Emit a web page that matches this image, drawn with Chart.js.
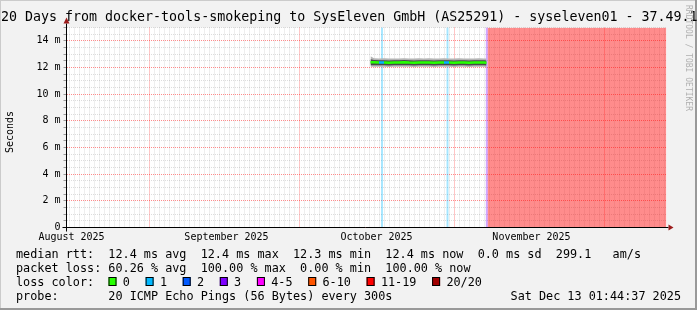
<!DOCTYPE html>
<html>
<head>
<meta charset="utf-8">
<title>SmokePing 120 days</title>
<script src="https://cdn.jsdelivr.net/npm/chart.js@4.4.1/dist/chart.umd.min.js"></script>
<style>
  html, body { margin: 0; padding: 0; background: #f2f2f2; }
  canvas { display: block; }
</style>
</head>
<body>
<canvas id="chart" width="697" height="310"></canvas>
<script>
// x values are days counted from Aug 15 2025 (start of the 120 day window)
const monthStartDays = [17, 47, 78, 108];
const monthLabelDays = [1, 32, 62, 93];
const monthLabels = ['August 2025', 'September 2025', 'October 2025', 'November 2025'];

// median rtt and smoke, in milliseconds
const sampleDays = [60.8, 61.5, 62.5, 63.5, 64.5, 65.5, 66.5, 67.5, 68.5, 69.5, 70.5, 71.5, 72.5,
  73.5, 74.5, 75.5, 76.5, 77.5, 78.5, 79.5, 80.5, 81.5, 82.5, 83.5, 84.0];
const medianRtt = [12.40, 12.39, 12.37, 12.38, 12.36, 12.38, 12.37, 12.39, 12.37, 12.36, 12.38, 12.37, 12.38,
  12.36, 12.37, 12.38, 12.37, 12.36, 12.38, 12.37, 12.36, 12.37, 12.38, 12.37, 12.36];
const medianLoss = [0, 0, 1, 0, 0, 0, 0, 0, 0, 0, 0, 0, 0, 0, 0, 1, 0, 0, 0, 0, 0, 0, 0, 0, 0];
const smokeInnerHigh = [12.62, 12.56, 12.54, 12.55, 12.53, 12.55, 12.54, 12.56, 12.54, 12.53, 12.55, 12.54, 12.55,
  12.53, 12.54, 12.55, 12.54, 12.53, 12.55, 12.54, 12.53, 12.54, 12.55, 12.54, 12.53];
const smokeInnerLow = [12.17, 12.17, 12.16, 12.17, 12.15, 12.17, 12.16, 12.17, 12.16, 12.15, 12.17, 12.16, 12.17,
  12.15, 12.16, 12.17, 12.16, 12.15, 12.17, 12.16, 12.15, 12.16, 12.17, 12.16, 12.15];
const smokeOuterHigh = [12.85, 12.70, 12.68, 12.69, 12.67, 12.68, 12.68, 12.70, 12.68, 12.67, 12.69, 12.68, 12.69,
  12.67, 12.68, 12.69, 12.68, 12.67, 12.69, 12.68, 12.67, 12.68, 12.69, 12.68, 12.67];
const smokeOuterLow = [12.06, 12.06, 12.05, 12.06, 12.04, 12.06, 12.05, 12.06, 12.05, 12.04, 12.06, 12.05, 12.06,
  12.04, 12.05, 12.06, 12.05, 12.04, 12.06, 12.05, 12.04, 12.05, 12.06, 12.05, 12.04];

// loss markers (full height) and the total outage at the end
const lossBarDays = [63.1, 76.2, 84.06];
const lossBarLevel = [1, 1, 3];
const outageDays = [84.2, 120];

const yMaxMs = 15;

const lossLegendLabels = ['0', '1', '2', '3', '4-5', '6-10', '11-19', '20/20'];
const lossLegendColors = ['#26ff00', '#00b8ff', '#0059ff', '#7e00ff', '#ff00ff', '#ff5500', '#ff0000', '#a10000'];

const rttLine = 'median rtt:  12.4 ms avg  12.4 ms max  12.3 ms min  12.4 ms now  0.0 ms sd  299.1   am/s';
const lossLine = 'packet loss: 60.26 % avg  100.00 % max  0.00 % min  100.00 % now';
const probeLine = 'probe:       20 ICMP Echo Pings (56 Bytes) every 300s';
const dateLine = 'Sat Dec 13 01:44:37 2025';
const titleText = '20 Days from docker-tools-smokeping to SysEleven GmbH (AS25291) - syseleven01 - 37.49.1';

const mono = "'DejaVu Sans Mono', 'Liberation Mono', monospace";
const majorGrid = 'rgba(255, 0, 0, 0.45)';
const minorGrid = 'rgba(150, 150, 150, 0.32)';

function alpha(hex, a) {
  const n = parseInt(hex.slice(1), 16);
  return `rgba(${n >> 16}, ${(n >> 8) & 255}, ${n & 255}, ${a})`;
}
function pts(xs, ys) {
  return xs.map((x, i) => ({ x, y: ys[i] }));
}

const frame = {
  id: 'frame',
  beforeDraw(chart) {
    const { ctx, chartArea: a, width, height } = chart;
    ctx.save();
    ctx.fillStyle = '#f2f2f2';
    ctx.fillRect(0, 0, width, height);
    ctx.fillStyle = '#cbcbcb';
    ctx.fillRect(0, 0, width, 1);
    ctx.fillRect(0, 0, 1, height);
    ctx.fillStyle = '#999999';
    ctx.fillRect(0, height - 2, width, 2);
    ctx.fillRect(width - 2, 0, 2, height);
    ctx.fillStyle = '#ffffff';
    ctx.fillRect(a.left, a.top, a.right - a.left, a.bottom - a.top);
    ctx.restore();
  },
  afterDraw(chart) {
    const { ctx, chartArea: a } = chart;
    ctx.save();
    // axes with arrows
    ctx.strokeStyle = '#000';
    ctx.lineWidth = 1;
    ctx.beginPath();
    ctx.moveTo(a.left - 4, a.bottom);
    ctx.lineTo(a.right + 2, a.bottom);
    ctx.moveTo(a.left, a.bottom + 4);
    ctx.lineTo(a.left, a.top - 4);
    ctx.stroke();
    ctx.fillStyle = '#9c1c1c';
    ctx.beginPath();
    ctx.moveTo(a.right + 2, a.bottom - 3);
    ctx.lineTo(a.right + 7, a.bottom);
    ctx.lineTo(a.right + 2, a.bottom + 3);
    ctx.closePath();
    ctx.fill();
    ctx.beginPath();
    ctx.moveTo(a.left - 3, a.top - 4);
    ctx.lineTo(a.left, a.top - 10);
    ctx.lineTo(a.left + 3, a.top - 4);
    ctx.closePath();
    ctx.fill();

    // title
    ctx.fillStyle = '#000';
    ctx.font = '13.3px ' + mono;
    ctx.textBaseline = 'alphabetic';
    ctx.textAlign = 'left';
    ctx.fillText(titleText, 1, 21);

    // y axis title
    ctx.save();
    ctx.translate(10.5, 132);
    ctx.rotate(-Math.PI / 2);
    ctx.font = '10px ' + mono;
    ctx.textAlign = 'center';
    ctx.textBaseline = 'middle';
    ctx.fillText('Seconds', 0, 0);
    ctx.restore();

    // watermark
    ctx.save();
    ctx.translate(688.5, 5);
    ctx.rotate(Math.PI / 2);
    ctx.font = '8px ' + mono;
    ctx.fillStyle = '#b0b0b0';
    ctx.textAlign = 'left';
    ctx.textBaseline = 'middle';
    ctx.fillText('RRDTOOL / TOBI OETIKER', 0, 0);
    ctx.restore();

    // legend
    ctx.font = '11.8px ' + mono;
    ctx.textBaseline = 'middle';
    ctx.fillStyle = '#000';
    ctx.fillText(rttLine, 16, 254.5);
    ctx.fillText(lossLine, 16, 268.5);
    ctx.fillText('loss color:', 16, 282.5);
    let x = 108.5;
    lossLegendLabels.forEach((label, i) => {
      ctx.fillStyle = lossLegendColors[i];
      ctx.fillRect(x, 277, 8, 9);
      ctx.strokeStyle = '#000';
      ctx.strokeRect(x + 0.5, 277.5, 7, 8);
      ctx.fillStyle = '#000';
      ctx.fillText(label, x + 14.3, 282.5);
      x += 30 + 7.1 * label.length;
    });
    ctx.fillText(probeLine, 16, 296.5);
    ctx.textAlign = 'right';
    ctx.fillText(dateLine, 681, 296.5);
    ctx.restore();
  }
};

new Chart(document.getElementById('chart'), {
  type: 'line',
  data: {
    datasets: [
      {
        data: pts(sampleDays, medianRtt),
        borderWidth: 2.5,
        borderColor: '#26ff00',
        segment: { borderColor: (c) => lossLegendColors[medianLoss[c.p0DataIndex]] },
        pointRadius: 0,
        order: 0,
      },
      {
        data: pts(sampleDays, smokeInnerHigh),
        borderWidth: 0,
        pointRadius: 0,
        fill: '+1',
        backgroundColor: '#4a4a4a',
        order: 2,
      },
      {
        data: pts(sampleDays, smokeInnerLow),
        borderWidth: 0,
        pointRadius: 0,
        order: 2,
      },
      {
        data: pts(sampleDays, smokeOuterHigh),
        borderWidth: 0,
        pointRadius: 0,
        fill: '+1',
        backgroundColor: '#b4b4b4',
        order: 3,
      },
      {
        data: pts(sampleDays, smokeOuterLow),
        borderWidth: 0,
        pointRadius: 0,
        order: 3,
      },
      {
        type: 'bar',
        data: lossBarDays.map((d) => ({ x: d, y: yMaxMs })),
        backgroundColor: lossBarLevel.map((l) => alpha(lossLegendColors[l], 0.35)),
        barThickness: 1.3,
        grouped: false,
        order: 4,
      },
      {
        data: outageDays.map((d) => ({ x: d, y: yMaxMs })),
        borderWidth: 0,
        pointRadius: 0,
        fill: 'origin',
        backgroundColor: 'rgba(255, 0, 0, 0.45)',
        order: 5,
      },
    ],
  },
  options: {
    responsive: false,
    animation: false,
    layout: { padding: { left: 0, right: 30.5, top: 27.5, bottom: 0 } },
    plugins: {
      legend: { display: false },
      tooltip: { enabled: false },
    },
    scales: {
      x: {
        type: 'linear',
        min: 0,
        max: 120,
        offset: false,
        afterFit(scale) {
          scale.height = 82.5;
        },
        border: { display: false, dash: [1, 1] },
        grid: {
          drawTicks: false,
          color: (c) => (c.tick && monthStartDays.includes(c.tick.value) ? majorGrid : minorGrid),
        },
        ticks: {
          stepSize: 1,
          autoSkip: false,
          maxRotation: 0,
          padding: 4,
          color: '#000',
          font: { family: mono, size: 10 },
          callback: (v) => {
            const i = monthLabelDays.indexOf(v);
            return i >= 0 ? monthLabels[i] : '';
          },
        },
      },
      y: {
        min: 0,
        max: yMaxMs,
        afterFit(scale) {
          scale.width = 66.5;
        },
        border: { display: false, dash: [1, 1] },
        grid: {
          tickLength: 3,
          tickColor: '#999',
          color: (c) => (c.tick && Math.abs(c.tick.value % 2) < 1e-6 ? majorGrid : minorGrid),
        },
        ticks: {
          stepSize: 0.5,
          autoSkip: false,
          padding: 3,
          color: '#000',
          font: { family: mono, size: 10 },
          callback: (v) => {
            if (Math.abs(v % 2) > 1e-6) return '';
            return v === 0 ? '0' : v + ' m';
          },
        },
      },
    },
  },
  plugins: [frame],
});
</script>
</body>
</html>
